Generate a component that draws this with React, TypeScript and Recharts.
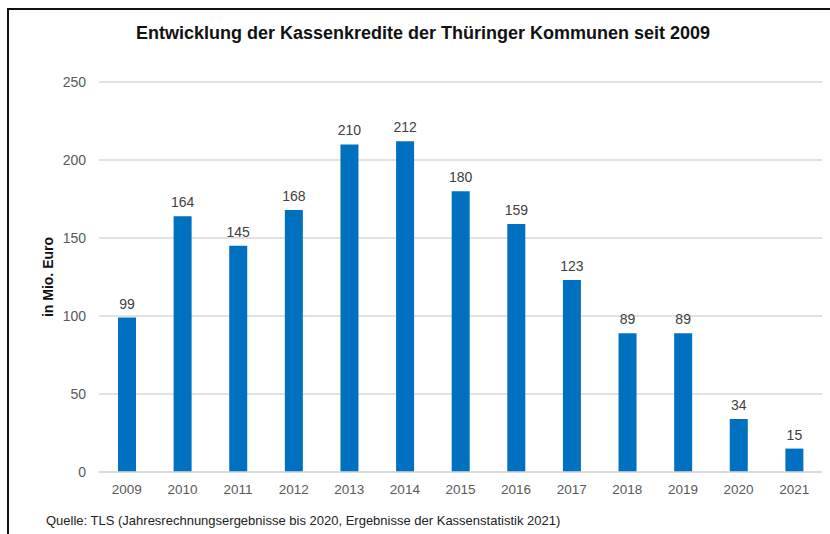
import { BarChart, Bar, XAxis, YAxis, CartesianGrid, LabelList } from "recharts"

const years = ["2009", "2010", "2011", "2012", "2013", "2014", "2015", "2016", "2017", "2018", "2019", "2020", "2021"]
const kredite = [99, 164, 145, 168, 210, 212, 180, 159, 123, 89, 89, 34, 15]
const yTicks = [0, 50, 100, 150, 200, 250]

const data = years.map((year, i) => ({ year, value: kredite[i] }))

const font = "'Liberation Sans', Arial, sans-serif"

export default function App() {
  return (
    <div style={{ position: "absolute", left: 0, top: 0, width: 830, height: 534, background: "#fff", fontFamily: font }}>
      <div
        style={{
          position: "absolute",
          left: 7,
          top: 8,
          width: 823,
          height: 526,
          borderTop: "2px solid #111",
          borderLeft: "2px solid #111",
          boxSizing: "border-box"
        }}
      />
      <div
        style={{
          position: "absolute",
          left: 0,
          width: 846,
          top: 23,
          textAlign: "center",
          fontWeight: "bold",
          fontSize: 18,
          color: "#111"
        }}
      >
        Entwicklung der Kassenkredite der Thüringer Kommunen seit 2009
      </div>

      <BarChart
        width={830}
        height={534}
        data={data}
        margin={{ top: 82, right: 8, bottom: 32, left: 0 }}
        barSize={18}
        style={{ position: "absolute", left: 0, top: 0 }}
      >
        <CartesianGrid vertical={false} stroke="#d9d9d9" strokeWidth={1.5} />
        <XAxis
          dataKey="year"
          height={30}
          axisLine={{ stroke: "#d9d9d9", strokeWidth: 1.5 }}
          tickLine={false}
          tickSize={0}
          tickMargin={12}
          tick={{ fontSize: 13.5, fill: "#595959", fontFamily: font }}
        />
        <YAxis
          width={99}
          domain={[0, 250]}
          ticks={yTicks}
          axisLine={false}
          tickLine={false}
          tickSize={0}
          tickMargin={13}
          tick={{ fontSize: 14, fill: "#595959", fontFamily: font }}
          label={{
            value: "in Mio. Euro",
            angle: -90,
            position: "insideLeft",
            offset: 48,
            style: { fontSize: 14, fontWeight: "bold", fill: "#111", fontFamily: font, textAnchor: "middle" }
          }}
        />
        <Bar dataKey="value" fill="#0070C0" isAnimationActive={false}>
          <LabelList
            dataKey="value"
            position="top"
            offset={9}
            style={{ fontSize: 14, fill: "#404040", fontFamily: font }}
          />
        </Bar>
      </BarChart>

      <div
        style={{
          position: "absolute",
          left: 46,
          top: 513,
          fontSize: 13,
          color: "#222"
        }}
      >
        Quelle: TLS (Jahresrechnungsergebnisse bis 2020, Ergebnisse der Kassenstatistik 2021)
      </div>
    </div>
  )
}
